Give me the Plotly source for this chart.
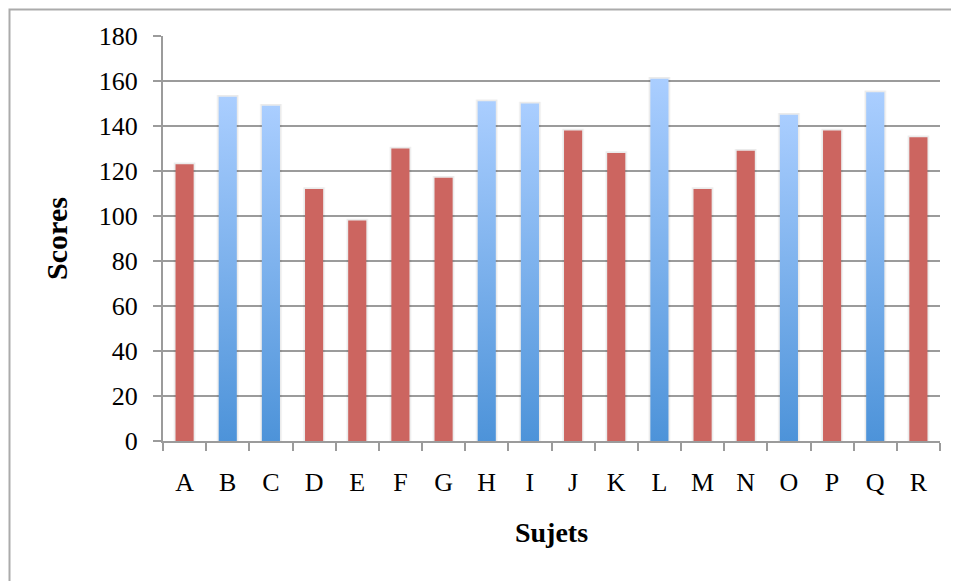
import plotly.graph_objects as go

categories = ["A", "B", "C", "D", "E", "F", "G", "H", "I", "J", "K", "L", "M", "N", "O", "P", "Q", "R"]
scores = [123, 153, 149, 112, 98, 130, 117, 151, 150, 138, 128, 161, 112, 129, 145, 138, 155, 135]
blue_subjects = ["B", "C", "H", "I", "L", "O", "Q"]
y_ticks = [0, 20, 40, 60, 80, 100, 120, 140, 160, 180]

RED = "#CC6560"
BLUE_DARK = "#4D93D9"
BLUE_LIGHT = "#AACEFF"
GRID = "#9B9B9B"
BAR_W = 0.42
FONT = "Liberation Serif"

fig = go.Figure()

# soft shadows behind all bars
for w, a in [(0.52, 0.035), (0.48, 0.045)]:
    fig.add_trace(go.Bar(x=categories, y=[v + 0.8 for v in scores], width=w,
                         marker=dict(color=f"rgba(0,0,0,{a})", line=dict(width=0)),
                         hoverinfo="skip", showlegend=False))

# red bars
red_vals = [v if c not in blue_subjects else None for c, v in zip(categories, scores)]
fig.add_trace(go.Bar(x=categories, y=red_vals, width=BAR_W,
                     marker=dict(color=RED, line=dict(width=0)), showlegend=False))

# blue gradient bars (polygons on an overlaying linear axis)
for i, (c, v) in enumerate(zip(categories, scores)):
    if c in blue_subjects:
        x0, x1 = i - BAR_W / 2, i + BAR_W / 2
        fig.add_trace(go.Scatter(
            x=[x0, x1, x1, x0, x0], y=[0, 0, v, v, 0], xaxis="x2",
            mode="lines", line=dict(width=0), fill="toself",
            fillgradient=dict(type="vertical", colorscale=[[0, BLUE_DARK], [1, BLUE_LIGHT]],
                              start=0, stop=v),
            hoverinfo="skip", showlegend=False))

# page body has an 8px offset; plot area should span x 163..940, y 36..441
L, T = 155, 28
W, H = 959, 581
R = W - (940 - 8)
B = H - (441 - 8)

fig.update_layout(
    width=W, height=H,
    margin=dict(l=L, r=R, t=T, b=B),
    paper_bgcolor="white", plot_bgcolor="white",
    barmode="overlay",
    font=dict(family=FONT, size=26, color="black"),
    xaxis=dict(
        type="category", categoryorder="array", categoryarray=categories,
        range=[-0.5, len(categories) - 0.5],
        showline=True, linecolor=GRID, linewidth=2,
        ticks="outside", tickson="boundaries", ticklen=8, tickwidth=2, tickcolor=GRID,
        showgrid=False, ticklabelstandoff=17,
        title=dict(text="<b>Sujets</b>", font=dict(family=FONT, size=28), standoff=26),
    ),
    xaxis2=dict(overlaying="x", range=[-0.5, len(categories) - 0.5], visible=False),
    yaxis=dict(
        range=[0, 180], tickvals=y_ticks,
        showline=True, linecolor=GRID, linewidth=2,
        ticks="outside", ticklen=8, tickwidth=2, tickcolor=GRID,
        showgrid=True, gridcolor=GRID, gridwidth=2, zeroline=False,
        ticklabelstandoff=10,
        title=dict(text="<b>Scores</b>", font=dict(family=FONT, size=30), standoff=22),
    ),
    shapes=[dict(type="rect", xref="paper", yref="paper",
                 x0=(9.5 - 163) / 777, x1=(965 - 163) / 777,
                 y0=(441 - 600) / 405, y1=(441 - 9.5) / 405,
                 line=dict(color="#ABABAB", width=2), fillcolor="rgba(0,0,0,0)", layer="below")],
)

fig.write_html("out.html")
